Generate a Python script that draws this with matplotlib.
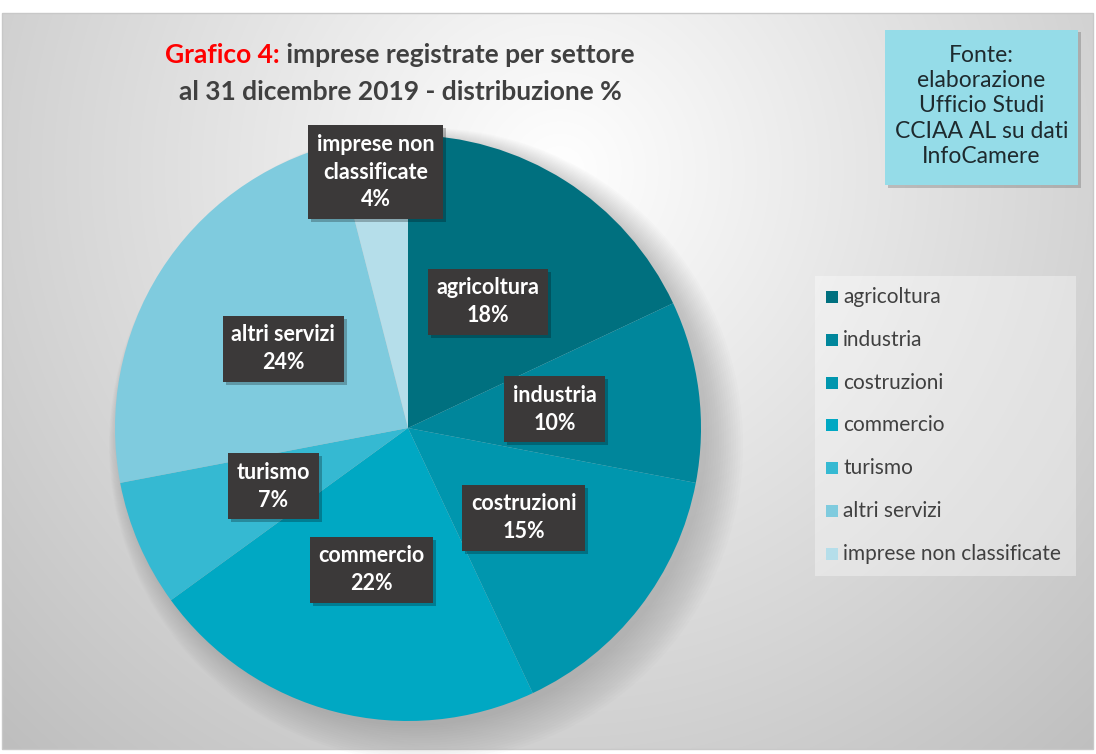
import numpy as np
import matplotlib
matplotlib.use("Agg")
import matplotlib.pyplot as plt
from matplotlib.patches import Rectangle, Circle

categories = ["agricoltura", "industria", "costruzioni", "commercio",
              "turismo", "altri servizi", "imprese non classificate"]
values = [18, 10, 15, 22, 7, 24, 4]
label_texts = ["agricoltura", "industria", "costruzioni", "commercio",
               "turismo", "altri servizi", "imprese non\nclassificate"]
colors = ["#00707F", "#00869B", "#0096AE", "#00A8C3", "#35B9D2", "#7FCBDE", "#B5DEEA"]
title_red = "Grafico 4:"
title_rest = " imprese registrate per settore"
title_line2 = "al 31 dicembre 2019 - distribuzione %"
source_text = "Fonte:\nelaborazione\nUfficio Studi\nCCIAA AL su dati\nInfoCamere"

W, H = 1096, 754
fig = plt.figure(figsize=(W / 100, H / 100), dpi=100)
fig.patch.set_facecolor("white")
ax = fig.add_axes([0, 0, 1, 1])
ax.set_xlim(0, W)
ax.set_ylim(0, H)
ax.set_aspect("equal")
ax.axis("off")

FONT = "Lato"

# background chart area with radial gradient
x0, x1, y0, y1 = 2, 1093, H - 749, H - 13
xx, yy = np.meshgrid(np.linspace(x0, x1, 400), np.linspace(y0, y1, 300))
cx, cy = 560, H - 170
d = np.sqrt((xx - cx) ** 2 + (yy - cy) ** 2) / 820.0
d = np.clip(d, 0, 1)
g = 1.0 - 0.26 * d ** 1.0
img = np.dstack([g, g, g])
ax.imshow(img, extent=[x0, x1, y0, y1], origin="lower", zorder=0, interpolation="bilinear")
ax.add_patch(Rectangle((x0, y0), x1 - x0, y1 - y0, fill=False, ec="#c8c8c8", lw=1, zorder=1))

# pie
pcx, pcy, R = 408, H - 428, 293
for i in range(16):
    ax.add_patch(Circle((pcx + 6 + i * 0.8, pcy - 5 - i * 0.8), R + i * 1.6,
                        color="#606060", alpha=0.018, lw=0, zorder=2))
wedges, _ = ax.pie(values, colors=colors, startangle=90, counterclock=False,
                   center=(pcx, pcy), radius=R, frame=True,
                   wedgeprops=dict(lw=0, zorder=3))
ax.set_xlim(0, W)
ax.set_ylim(0, H)
ax.axis("off")

dists = [0.51, 0.505, 0.50, 0.50, 0.50, 0.505, 0.88]
labels = []
for w, lab, v, dist in zip(wedges, label_texts, values, dists):
    ang = np.deg2rad((w.theta1 + w.theta2) / 2)
    lx = pcx + dist * R * np.cos(ang)
    ly = pcy + dist * R * np.sin(ang)
    t = ax.text(lx, ly, f"{lab}\n{v}%", ha="center", va="center", fontsize=15.5,
                fontweight="bold", family=FONT, color="white", linespacing=1.4,
                bbox=dict(boxstyle="square,pad=0.4", fc="#3B3939", ec="none"),
                zorder=5)
    labels.append(t)

fig.canvas.draw()
inv = ax.transData.inverted()
for t in labels:
    bb = t.get_bbox_patch().get_window_extent()
    (bx0, by0), (bx1, by1) = inv.transform([[bb.x0, bb.y0], [bb.x1, bb.y1]])
    ax.add_patch(Rectangle((bx0 + 3, by0 - 3), bx1 - bx0, by1 - by0,
                           fc="#000000", alpha=0.25, lw=0, zorder=4))

# title
TFS = 19
tmp = ax.text(400, H - 55, title_red + title_rest, ha="center", va="center",
              fontsize=TFS, fontweight="bold", family=FONT)
fig.canvas.draw()
xs = tmp.get_window_extent().x0
tmp.remove()
tr = ax.text(xs, H - 55, title_red, ha="left", va="center", fontsize=TFS,
             fontweight="bold", family=FONT, color="#FF0000", zorder=6)
fig.canvas.draw()
bb2 = tr.get_window_extent()
ax.text(bb2.x1, H - 55, title_rest, ha="left", va="center", fontsize=TFS,
        fontweight="bold", family=FONT, color="#404040", zorder=6)
ax.text(400, H - 92, title_line2, ha="center", va="center", fontsize=TFS,
        fontweight="bold", family=FONT, color="#404040", zorder=6)

# source box
ax.add_patch(Rectangle((888, H - 188), 193, 156, fc="#000000", alpha=0.18, lw=0, zorder=6))
ax.add_patch(Rectangle((885, H - 185), 193, 155, fc="#95DCE8", ec="none", zorder=7))
ax.text(981.5, H - 106, source_text, ha="center", va="center", fontsize=16.5,
        family=FONT, color="#1e2a2e", linespacing=1.24, zorder=8)

# legend
ax.add_patch(Rectangle((815, H - 576), 261, 300, fc="#ffffff", alpha=0.35, lw=0, zorder=6))
for i, (c, name) in enumerate(zip(colors, categories)):
    yy_ = H - (297 + i * 42.8)
    ax.add_patch(Rectangle((826, yy_ - 6), 12, 12, fc=c, ec="none", zorder=7))
    ax.text(843, yy_, name, ha="left", va="center", fontsize=15, family=FONT,
            color="#404040", zorder=7)

fig.savefig("out.png", dpi=100, facecolor="white")
